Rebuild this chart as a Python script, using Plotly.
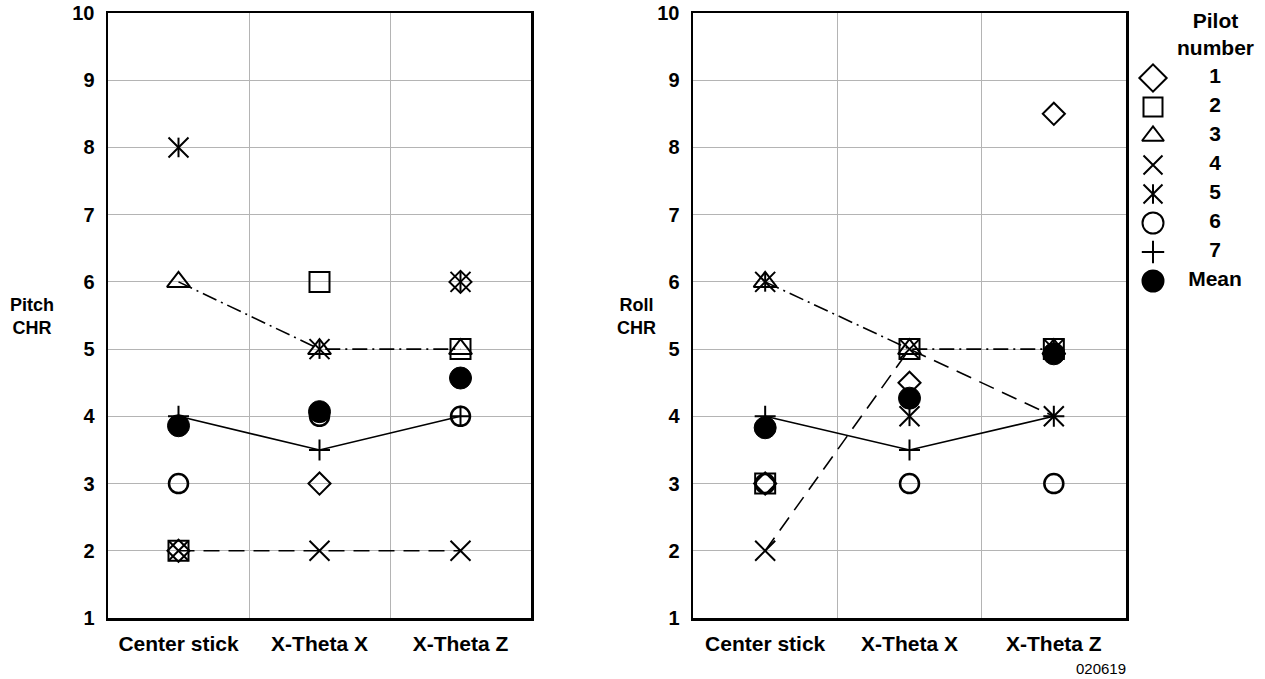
import plotly.graph_objects as go

# ---------------- data ----------------
categories = ["Center stick", "X-Theta X", "X-Theta Z"]
pilot_labels = ["1", "2", "3", "4", "5", "6", "7", "Mean"]

pitch_p1 = [2, 3, 6]
pitch_p2 = [2, 6, 5]
pitch_p3 = [6, 5, 5]
pitch_p4 = [2, 2, 2]
pitch_p5 = [8, 5, 6]
pitch_p6 = [3, 4, 4]
pitch_p7 = [4, 3.5, 4]
pitch_mean = [3.86, 4.07, 4.57]

roll_p1 = [3, 4.5, 8.5]
roll_p2 = [3, 5, 5]
roll_p3 = [6, 5, 5]
roll_p4 = [2, 5, 4]
roll_p5 = [6, 4, 5]
roll_p6 = [3, 3, 3]
roll_p7 = [4, 3.5, 4]
roll_mean = [3.83, 4.27, 4.93]

y_ticks = [1, 2, 3, 4, 5, 6, 7, 8, 9, 10]

# ---------------- styles ----------------
W, H = 1265, 679
FONT = "Liberation Sans, Arial, Helvetica, sans-serif"
BLACK = "#000000"
GRID = "#b4b4b4"

STYLES = [
    dict(layers=[("diamond-open", 17)], leg=[21], dash=None, lw=2),
    dict(layers=[("square-open", 20)], leg=[19], dash=None, lw=2),
    dict(layers=[("triangle-up-open", 20)], leg=[19], dash="15px,5px,2px,5px", lw=2),
    dict(layers=[("x-thin-open", 20)], leg=[19], dash="16px,9px", lw=2),
    dict(layers=[("x-thin-open", 20), ("line-ns-open", 14)], leg=[19, 14], dash=None, lw=2),
    dict(layers=[("circle-open", 19)], leg=[21], dash=None, lw=2.5),
    dict(layers=[("cross-thin-open", 15)], leg=[16], dash="solid", lw=2),
    dict(layers=[("circle", 22)], leg=[21], dash=None, lw=1),
]

pitch_series = [pitch_p1, pitch_p2, pitch_p3, pitch_p4, pitch_p5, pitch_p6, pitch_p7, pitch_mean]
roll_series = [roll_p1, roll_p2, roll_p3, roll_p4, roll_p5, roll_p6, roll_p7, roll_mean]

fig = go.Figure()


def add_panel(series, xa, ya):
    for st, vals in zip(STYLES, series):
        for li, (sym, size) in enumerate(st["layers"]):
            with_line = st["dash"] is not None and li == 0
            fig.add_trace(go.Scatter(
                x=categories, y=vals, xaxis=xa, yaxis=ya,
                mode="lines+markers" if with_line else "markers",
                line=dict(color=BLACK, width=1.6, dash=st["dash"] or "solid"),
                marker=dict(symbol=sym, size=size, color=BLACK,
                            line=dict(color=BLACK, width=st["lw"])),
                showlegend=False, hoverinfo="skip",
            ))


add_panel(pitch_series, "x", "y")
add_panel(roll_series, "x2", "y2")

# ---------------- manual legend ----------------
LEG_SYM_X = 1153
LEG_TXT_X = 1215
LEG_Y0 = 78
LEG_DY = 29.0
for i, (st, lab) in enumerate(zip(STYLES, pilot_labels)):
    yy = LEG_Y0 + i * LEG_DY
    for (sym, _), lsize in zip(st["layers"], st["leg"]):
        fig.add_trace(go.Scatter(
            x=[LEG_SYM_X], y=[yy], xaxis="x3", yaxis="y3", mode="markers",
            marker=dict(symbol=sym, size=lsize, color=BLACK,
                        line=dict(color=BLACK, width=2)),
            showlegend=False, hoverinfo="skip",
        ))
    fig.add_trace(go.Scatter(
        x=[LEG_TXT_X], y=[yy], xaxis="x3", yaxis="y3", mode="text",
        text=[lab], textposition="middle center",
        textfont=dict(family=FONT, size=21, color=BLACK, weight="bold"),
        showlegend=False, hoverinfo="skip",
    ))

# ---------------- axes ----------------
yd = [1 - 618 / H, 1 - 13 / H]
xcommon = dict(
    type="category", tickson="boundaries", showgrid=True, gridcolor=GRID, gridwidth=1,
    showline=True, mirror=True, linecolor=BLACK, linewidth=2.5,
    ticks="", ticklabelstandoff=5, zeroline=False, automargin=False,
    tickfont=dict(family=FONT, size=21, color=BLACK, weight="bold"),
    range=[-0.5, 2.5], fixedrange=True,
)
ycommon = dict(
    range=[1, 10], tickvals=y_ticks, showgrid=True, gridcolor=GRID, gridwidth=1,
    showline=True, mirror=True, linecolor=BLACK, linewidth=2.5,
    ticks="", ticklabelstandoff=7, zeroline=False, automargin=False,
    tickfont=dict(family=FONT, size=20, color=BLACK, weight="bold"),
    fixedrange=True, domain=yd,
)

fig.update_layout(
    width=W, height=H,
    margin=dict(l=0, r=0, t=0, b=0, pad=0, autoexpand=False),
    paper_bgcolor="white", plot_bgcolor="white",
    font=dict(family=FONT, color=BLACK),
    xaxis=dict(domain=[108 / W, 531 / W], anchor="y", **xcommon),
    yaxis=dict(anchor="x", **ycommon),
    xaxis2=dict(domain=[693 / W, 1126 / W], anchor="y2", **xcommon),
    yaxis2=dict(anchor="x2", **ycommon),
    xaxis3=dict(domain=[1127 / W, 1.0], range=[1127, W], visible=False,
                anchor="y3", fixedrange=True, automargin=False),
    yaxis3=dict(domain=[0, 1], range=[H, 0], visible=False,
                anchor="x3", fixedrange=True, automargin=False),
    showlegend=False,
    annotations=[
        dict(text="Pitch<br>CHR", x=32 / W, y=1 - 316 / H, xref="paper", yref="paper",
             showarrow=False, xanchor="center", yanchor="middle",
             font=dict(family=FONT, size=18, color=BLACK, weight="bold")),
        dict(text="Roll<br>CHR", x=636 / W, y=1 - 316 / H, xref="paper", yref="paper",
             showarrow=False, xanchor="center", yanchor="middle",
             font=dict(family=FONT, size=18, color=BLACK, weight="bold")),
        dict(text="Pilot<br>number", x=1215 / W, y=1 - 34 / H, xref="paper", yref="paper",
             showarrow=False, xanchor="center", yanchor="middle",
             font=dict(family=FONT, size=21, color=BLACK, weight="bold")),
        dict(text="020619", x=1101 / W, y=1 - 668 / H, xref="paper", yref="paper",
             showarrow=False, xanchor="center", yanchor="middle",
             font=dict(family=FONT, size=15, color=BLACK)),
    ],
)

fig.write_html(
    "out.html",
    config={"displayModeBar": False, "staticPlot": True},
    post_script="document.body.style.margin='0';document.body.style.overflow='hidden';",
)
